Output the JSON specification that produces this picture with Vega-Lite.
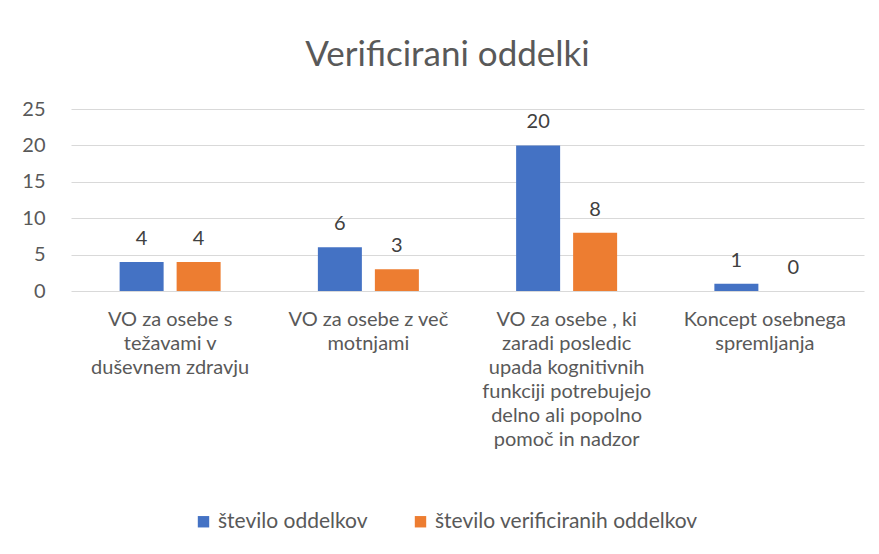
{
  "$schema": "https://vega.github.io/schema/vega-lite/v6.json",
  "width": 793,
  "height": 182,
  "autosize": "none",
  "padding": {"left": 71, "top": 109, "right": 15, "bottom": 263},
  "background": "white",
  "title": {
    "text": "Verificirani oddelki",
    "fontSize": 35,
    "font": "Lato",
    "fontWeight": "normal",
    "color": "#595959",
    "anchor": "middle",
    "offset": 26,
    "dx": -20
  },
  "data": {
    "values": [
      {"kategorija": "VO za osebe s|težavami v|duševnem zdravju", "serija": "število oddelkov", "vrednost": 4, "red": 1},
      {"kategorija": "VO za osebe s|težavami v|duševnem zdravju", "serija": "število verificiranih oddelkov", "vrednost": 4, "red": 1},
      {"kategorija": "VO za osebe z več|motnjami", "serija": "število oddelkov", "vrednost": 6, "red": 2},
      {"kategorija": "VO za osebe z več|motnjami", "serija": "število verificiranih oddelkov", "vrednost": 3, "red": 2},
      {"kategorija": "VO za osebe , ki|zaradi posledic|upada kognitivnih|funkciji potrebujejo|delno ali popolno|pomoč in nadzor", "serija": "število oddelkov", "vrednost": 20, "red": 3},
      {"kategorija": "VO za osebe , ki|zaradi posledic|upada kognitivnih|funkciji potrebujejo|delno ali popolno|pomoč in nadzor", "serija": "število verificiranih oddelkov", "vrednost": 8, "red": 3},
      {"kategorija": "Koncept osebnega|spremljanja", "serija": "število oddelkov", "vrednost": 1, "red": 4},
      {"kategorija": "Koncept osebnega|spremljanja", "serija": "število verificiranih oddelkov", "vrednost": 0, "red": 4}
    ]
  },
  "encoding": {
    "x": {
      "field": "kategorija",
      "type": "nominal",
      "sort": {"field": "red"},
      "scale": {"paddingInner": 0, "paddingOuter": 0},
      "axis": {
        "title": null,
        "labelAngle": 0,
        "labelExpr": "split(datum.label, '|')",
        "labelFont": "Lato",
        "labelFontSize": 20,
        "labelColor": "#595959",
        "labelLineHeight": 24,
        "labelPadding": 18,
        "labelBaseline": "top",
        "ticks": false,
        "domain": false,
        "labelLimit": 250
      }
    },
    "xOffset": {
      "field": "serija",
      "type": "nominal",
      "scale": {"paddingInner": 0.228, "paddingOuter": 0.853}
    },
    "y": {
      "field": "vrednost",
      "type": "quantitative",
      "scale": {"domain": [0, 25]},
      "axis": {
        "title": null,
        "values": [0, 5, 10, 15, 20, 25],
        "labelFont": "Lato",
        "labelFontSize": 20,
        "labelColor": "#595959",
        "labelPadding": 26,
        "ticks": false,
        "domain": false,
        "gridColor": "#d9d9d9",
        "gridWidth": 1
      }
    }
  },
  "layer": [
    {
      "mark": {"type": "bar"},
      "encoding": {
        "color": {
          "field": "serija",
          "type": "nominal",
          "scale": {"domain": ["število oddelkov", "število verificiranih oddelkov"], "range": ["#4472C4", "#ED7D31"]},
          "legend": {
            "title": null,
            "orient": "none",
            "direction": "horizontal",
            "legendX": 122,
            "legendY": 402,
            "symbolType": "square",
            "symbolSize": 130,
            "symbolStrokeWidth": 0,
            "labelFont": "Lato",
            "labelFontSize": 21,
            "labelColor": "#595959",
            "labelOffset": 4,
            "columnPadding": 42,
            "labelLimit": 400
          }
        }
      }
    },
    {
      "mark": {"type": "text", "baseline": "alphabetic", "dy": -17, "font": "Lato", "fontSize": 20, "color": "#404040"},
      "encoding": {
        "text": {"field": "vrednost", "type": "quantitative"}
      }
    }
  ],
  "config": {
    "view": {"stroke": null}
  }
}
